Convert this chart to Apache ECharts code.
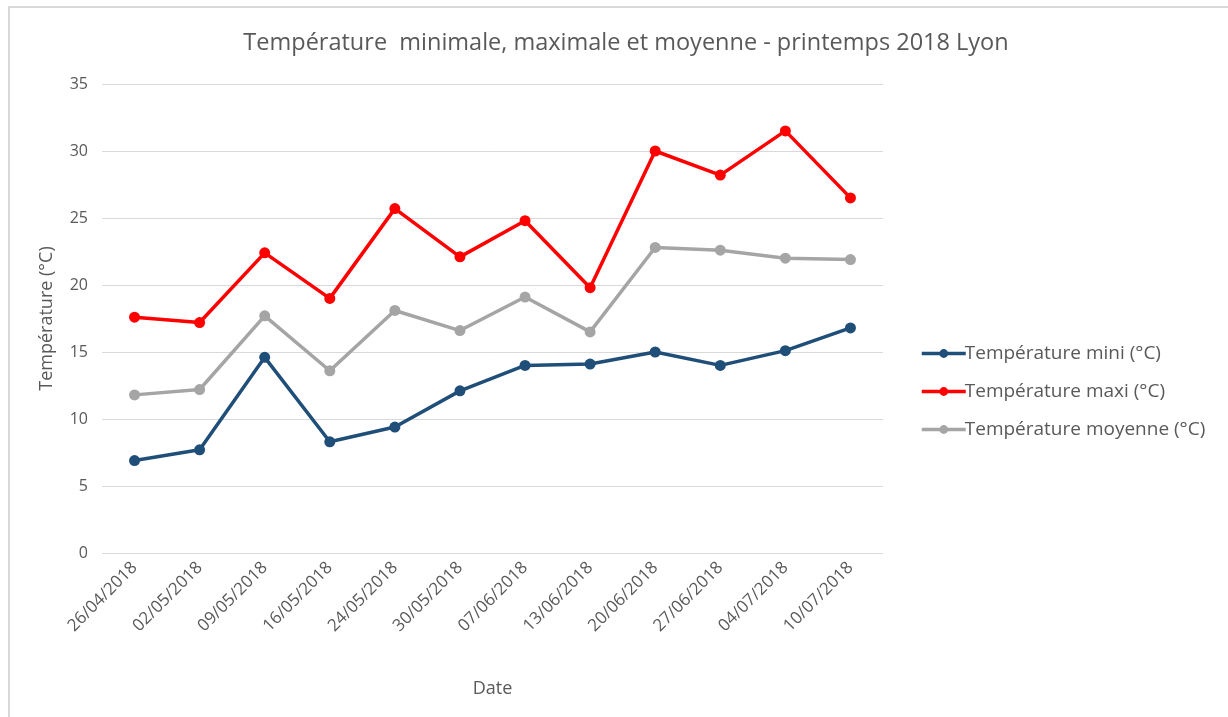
<!DOCTYPE html>
<html>
<head>
<meta charset="utf-8">
<script src="https://cdn.jsdelivr.net/npm/echarts@6/dist/echarts.min.js"></script>
<style>
html, body { margin: 0; padding: 0; background: #fff; }
#chart {
  position: absolute; left: 8px; top: 6px; width: 1220px; height: 711px;
  border-left: 2px solid #d9d9d9; border-top: 2px solid #d9d9d9; box-sizing: border-box;
}
</style>
</head>
<body>
<div id="chart"></div>
<script>
const dates = ['26/04/2018', '02/05/2018', '09/05/2018', '16/05/2018', '24/05/2018', '30/05/2018',
  '07/06/2018', '13/06/2018', '20/06/2018', '27/06/2018', '04/07/2018', '10/07/2018']
const tempMini = [6.9, 7.7, 14.6, 8.3, 9.4, 12.1, 14.0, 14.1, 15.0, 14.0, 15.1, 16.8]
const tempMaxi = [17.6, 17.2, 22.4, 19.0, 25.7, 22.1, 24.8, 19.8, 30.0, 28.2, 31.5, 26.5]
const tempMoy = [11.8, 12.2, 17.7, 13.6, 18.1, 16.6, 19.1, 16.5, 22.8, 22.6, 22.0, 21.9]

const font = "'Open Sans', 'Noto Sans', sans-serif"
const chart = echarts.init(document.getElementById('chart'))

const mkSeries = (name, data, color) => ({
  name,
  type: 'line',
  data,
  symbol: 'circle',
  symbolSize: 11,
  lineStyle: { color, width: 3.5 },
  itemStyle: { color },
  animation: false
})

chart.setOption({
  backgroundColor: '#fff',
  textStyle: { fontFamily: font },
  title: {
    text: 'Température  minimale, maximale et moyenne - printemps 2018 Lyon',
    left: 611, top: 18, textAlign: 'center',
    textStyle: { fontSize: 23.5, fontWeight: 'normal', color: '#595959', fontFamily: font }
  },
  legend: {
    orient: 'vertical',
    left: 905, top: 331,
    itemGap: 19,
    itemWidth: 44, itemHeight: 11,
    lineStyle: { width: 3.5 },
    textStyle: { fontSize: 19, color: '#595959', padding: [0, 0, 0, -6] },
    data: ['Température mini (°C)', 'Température maxi (°C)', 'Température moyenne (°C)']
  },
  grid: { left: 92, right: 345, top: 76, bottom: 164 },
  xAxis: {
    type: 'category',
    data: dates,
    name: 'Date',
    nameLocation: 'middle',
    nameGap: 127,
    nameTextStyle: { fontSize: 18, color: '#595959' },
    axisLine: { show: false },
    axisTick: { show: false },
    axisLabel: { rotate: 45, fontSize: 17, color: '#595959', interval: 0, margin: 12 }
  },
  yAxis: {
    type: 'value',
    min: 0, max: 35, interval: 5,
    name: 'Température (°C)',
    nameLocation: 'middle',
    nameGap: 46,
    nameTextStyle: { fontSize: 18, color: '#595959' },
    axisLine: { show: false },
    axisTick: { show: false },
    axisLabel: { fontSize: 16, color: '#595959', margin: 14 },
    splitLine: { lineStyle: { color: '#d9d9d9', width: 1 } }
  },
  series: [
    mkSeries('Température mini (°C)', tempMini, '#1f4e79'),
    mkSeries('Température maxi (°C)', tempMaxi, '#ff0000'),
    mkSeries('Température moyenne (°C)', tempMoy, '#a5a5a5')
  ]
})

window.addEventListener('resize', () => chart.resize())
</script>
</body>
</html>
